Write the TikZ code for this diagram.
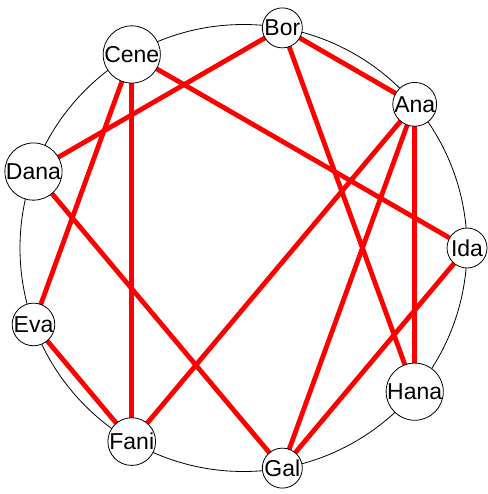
\documentclass[tikz,border=0pt]{standalone}
\usepackage{fontspec}
\setmainfont{Liberation Sans}
\usetikzlibrary{calc}
\begin{document}
\begin{tikzpicture}[x=1pt,y=-1pt,
  vertex/.style={circle,draw=black,fill=white,line width=0.8pt,minimum size=40pt,inner sep=0pt,font=\fontsize{23}{25}\selectfont},
  edge/.style={draw=red,line width=4.8pt}]
\useasboundingbox (0,0) rectangle (487,494);
\coordinate (c) at (243.5,248);
\draw[line width=0.8pt] (c) circle[radius=223.5];
\foreach \n/\a in {Ida/0,Ana/40,Bor/80,Cene/120,Dana/160,Eva/200,Fani/240,Gal/280,Hana/320}{
  \coordinate (p\n) at ($(c)+({223.5*cos(\a)},{-223.5*sin(\a)})$);
}
\foreach \u/\v in {Bor/Ana,Bor/Dana,Bor/Hana,Cene/Ida,Cene/Eva,Cene/Fani,Ana/Fani,Ana/Gal,Ana/Hana,Dana/Gal,Eva/Fani,Ida/Gal}{
  \draw[edge] (p\u) -- (p\v);
}
\foreach \n in {Ida,Ana,Bor,Cene,Dana,Eva,Fani,Gal,Hana}{
  \node[vertex] (\n) at (p\n) {\n};
}
\end{tikzpicture}
\end{document}
